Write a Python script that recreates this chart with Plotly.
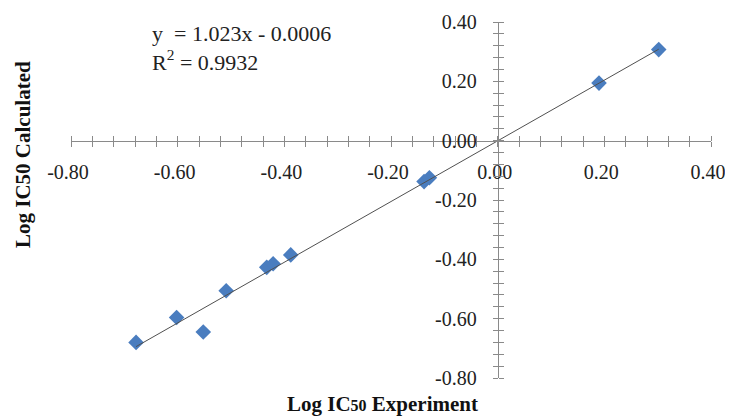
import plotly.graph_objects as go

# ---- data ----
exp_x = [-0.678, -0.602, -0.552, -0.509, -0.433, -0.421, -0.388, -0.138, -0.128, 0.190, 0.302]
calc_y = [-0.680, -0.596, -0.645, -0.506, -0.427, -0.415, -0.385, -0.138, -0.125, 0.194, 0.307]
slope = 1.023
intercept = -0.0006
r2 = 0.9932
tick_vals = [-0.8, -0.6, -0.4, -0.2, 0.0, 0.2, 0.4]
tick_text = ["-0.80", "-0.60", "-0.40", "-0.20", "0.00", "0.20", "0.40"]

AX = "#8a8a8a"
TICKFONT = dict(family="Liberation Serif", size=20, color="#222222")
W, H = 733, 416
OFF = 8  # page body margin
# plot area in screen pixels: x 71..711, y 22..378
ML = 71 - OFF
MT = 22 - OFF
MR = W - (711 - OFF)
MB = H - (378 - OFF)
rng = [-0.8, 0.4]
cross = (0 - rng[0]) / (rng[1] - rng[0])

tx = [min(exp_x), max(exp_x)]
ty = [slope * v + intercept for v in tx]

fig = go.Figure()
fig.add_trace(go.Scatter(x=tx, y=ty, mode="lines", xaxis="x2", yaxis="y2",
                         line=dict(color="#505050", width=1), hoverinfo="skip", showlegend=False))
fig.add_trace(go.Scatter(x=exp_x, y=calc_y, mode="markers", showlegend=False,
                         marker=dict(symbol="diamond", size=12, color="#4a7dbf",
                                     line=dict(width=0))))

minor_out = dict(tickmode="linear", tick0=-0.8, dtick=0.04, ticks="outside",
                 ticklen=5, tickcolor=AX, tickwidth=1)

common = dict(range=rng, showgrid=False, zeroline=False, automargin=False,
              tickcolor=AX, tickwidth=1, ticklen=5, fixedrange=True)

fig.update_layout(
    width=W, height=H,
    margin=dict(l=ML, r=MR, t=MT, b=MB),
    paper_bgcolor="white", plot_bgcolor="white",
    xaxis=dict(**common, domain=[0, 1], anchor="free", position=cross, side="bottom",
               showline=True, linecolor=AX, linewidth=1, ticks="outside",
               tickmode="array", tickvals=tick_vals, ticktext=tick_text,
               tickfont=TICKFONT, ticklabelstandoff=8, ticklabelshift=-3,
               minor=minor_out),
    xaxis2=dict(**common, overlaying="x", anchor="free", position=cross, side="top",
                showline=False, ticks="outside", showticklabels=False,
                tickmode="array", tickvals=tick_vals, minor=minor_out),
    yaxis=dict(**common, domain=[0, 1], anchor="free", position=cross, side="left",
               showline=True, linecolor=AX, linewidth=1, ticks="outside",
               tickmode="array", tickvals=tick_vals, ticktext=tick_text,
               tickfont=TICKFONT, ticklabelstandoff=12, minor=minor_out),
    yaxis2=dict(**common, overlaying="y", anchor="free", position=cross, side="right",
                showline=False, ticks="outside", showticklabels=False,
                tickmode="array", tickvals=tick_vals, minor=minor_out),
)

pw = W - ML - MR
ph = H - MT - MB

def px2paper_x(px):
    return (px - OFF - ML) / pw

def px2paper_y(py):
    return (H - MB - (py - OFF)) / ph

fig.add_annotation(
    text=f"y  = {slope}x - {abs(intercept)}<br>R<sup>2</sup> = {r2}",
    xref="paper", yref="paper", x=px2paper_x(150), y=px2paper_y(19),
    xanchor="left", yanchor="top", align="left", showarrow=False,
    font=dict(family="Liberation Serif", size=22, color="#222222"))

fig.add_annotation(
    text="<b>Log IC50 Calculated</b>", textangle=-90,
    xref="paper", yref="paper", x=px2paper_x(23), y=px2paper_y(155),
    xanchor="center", yanchor="middle", showarrow=False,
    font=dict(family="Liberation Serif", size=21, color="#111111"))

fig.add_annotation(
    text="<b>Log IC<span style='font-size:16px'>50</span> Experiment</b>",
    xref="paper", yref="paper", x=px2paper_x(382), y=px2paper_y(404),
    xanchor="center", yanchor="middle", showarrow=False,
    font=dict(family="Liberation Serif", size=21, color="#111111"))

fig.write_html("out.html")
